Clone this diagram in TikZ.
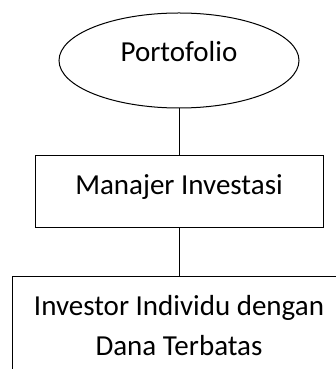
\documentclass[tikz,border=0pt]{standalone}
\usepackage{fontspec}
\setmainfont{Carlito}
\usetikzlibrary{shapes.geometric}

\begin{document}
\begin{tikzpicture}[x=1pt, y=1pt, font=\fontsize{29}{40}\selectfont, line width=1pt,
    box/.style={draw, rectangle, inner sep=0pt, align=center},
    oval/.style={draw, ellipse, inner sep=0pt}]
    \useasboundingbox (0,0) rectangle (336,369);
    \clip (0,0) rectangle (336,369);

    \node[oval, minimum width=240pt, minimum height=95pt, text height=20pt, text depth=17pt] (portofolio) at (179,308.5) {Portofolio};
    \node[box, minimum width=288pt, minimum height=72pt, text height=20pt, text depth=14pt] (manajer) at (179,177) {Manajer Investasi};
    \node[box, anchor=north, minimum width=334pt, minimum height=98pt] (investor) at (179,93) {Investor Individu dengan\\Dana Terbatas};

    \draw (portofolio) -- (manajer);
    \draw (manajer) -- (investor);
\end{tikzpicture}
\end{document}
